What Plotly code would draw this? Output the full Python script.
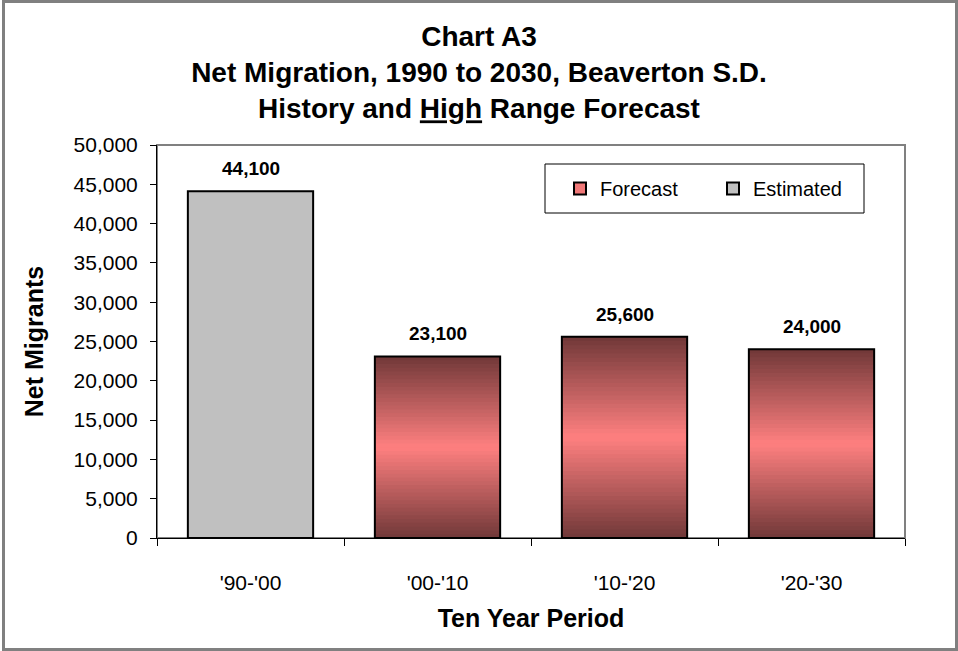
import plotly.graph_objects as go

PERIODS = ["'90-'00", "'00-'10", "'10-'20", "'20-'30"]
ESTIMATED_PERIODS = ["'90-'00"]
ESTIMATED_VALUES = [44100]
FORECAST_PERIODS = ["'00-'10", "'10-'20", "'20-'30"]
FORECAST_VALUES = [23100, 25600, 24000]

_FONT = "Liberation Sans, Arial, sans-serif"
_EDGE = (112, 56, 56)
_CENTER = (255, 128, 128)
_GRAY = "#c0c0c0"
_SLICES = 48

W, H = 958, 651
L, R, T, B = 157, 905, 145, 538


def px_x(x):
    return (x - L) / (R - L)


def px_y(y):
    return (B - y) / (B - T)


def shade(t):
    w = 1 - abs(2 * t - 1)
    rgb = [round(e + (c - e) * w) for e, c in zip(_EDGE, _CENTER)]
    return "rgb({},{},{})".format(*rgb)


fig = go.Figure()

# forecast bars: overlapping slices (each runs to the top) give the vertical gradient
for k in range(_SLICES):
    fig.add_bar(
        x=FORECAST_PERIODS,
        y=[v * (_SLICES - k) / _SLICES for v in FORECAST_VALUES],
        base=[v * k / _SLICES for v in FORECAST_VALUES],
        marker=dict(color=shade((k + 0.5) / _SLICES), line_width=0),
        showlegend=False,
        hoverinfo="skip",
    )

fig.add_bar(
    x=FORECAST_PERIODS, y=FORECAST_VALUES,
    marker=dict(color="rgba(0,0,0,0)", line=dict(color="black", width=2)),
    showlegend=False,
)
fig.add_bar(
    x=ESTIMATED_PERIODS, y=ESTIMATED_VALUES,
    marker=dict(color=_GRAY, line=dict(color="black", width=2)),
    showlegend=False,
)

# legend-only entries
fig.add_bar(x=[PERIODS[1]], y=[None], name="Forecast",
            marker=dict(color="#f07878", line=dict(color="black", width=2)))
fig.add_bar(x=[PERIODS[0]], y=[None], name="Estimated",
            marker=dict(color=_GRAY, line=dict(color="black", width=2)))

for p, v in zip(ESTIMATED_PERIODS + FORECAST_PERIODS, ESTIMATED_VALUES + FORECAST_VALUES):
    fig.add_annotation(
        x=p, y=v, text=f"<b>{v:,}</b>", showarrow=False,
        yanchor="bottom", yshift=10, font=dict(size=19, color="black"),
    )

fig.update_layout(
    width=W, height=H,
    margin=dict(l=L, r=W - R, t=T, b=H - B),
    paper_bgcolor="white", plot_bgcolor="white",
    font=dict(family=_FONT, size=21, color="black"),
    barmode="overlay", bargap=0.33,
    title=dict(
        text="<b>Chart A3<br>Net Migration, 1990 to 2030, Beaverton S.D.<br>"
             "History and <u>High</u> Range Forecast</b>",
        font=dict(family=_FONT, size=28),
        x=0.5, xanchor="center", xref="container",
        y=0.93, yanchor="top", yref="container",
    ),
    legend=dict(
        orientation="h", x=px_x(560), y=px_y(169), xanchor="left", yanchor="top",
        bgcolor="rgba(0,0,0,0)", font=dict(size=20), entrywidth=108,
        traceorder="normal",
    ),
    shapes=[
        dict(type="rect", xref="paper", yref="paper", x0=0, x1=1, y0=0, y1=1,
             line=dict(color="#808080", width=2), layer="below"),
        dict(type="rect", xref="paper", yref="paper",
             x0=px_x(545), x1=px_x(864), y0=px_y(213), y1=px_y(164),
             line=dict(color="black", width=1)),
        dict(type="rect", xref="paper", yref="paper",
             x0=px_x(3.5), x1=px_x(956.5), y0=px_y(649.5), y1=px_y(1.5),
             line=dict(color="#808080", width=3)),
    ],
)
fig.update_xaxes(
    type="category", categoryorder="array", categoryarray=PERIODS,
    tickson="boundaries", ticks="outside", ticklen=7, tickcolor="black",
    showline=True, linecolor="black", linewidth=1, showgrid=False,
    ticklabelstandoff=26,
    title=dict(text="<b>Ten Year Period</b>", standoff=16),
)
fig.update_yaxes(
    range=[0, 50000], dtick=5000, tickformat=",d",
    ticks="outside", ticklen=6, tickcolor="black",
    showline=True, linecolor="black", linewidth=1, showgrid=False, zeroline=False,
    ticklabelstandoff=8,
    title=dict(text="<b>Net Migrants</b>", standoff=22),
)

fig.write_html(
    "out.html",
    config={"displayModeBar": False},
    post_script="document.body.style.margin = '0';",
)
